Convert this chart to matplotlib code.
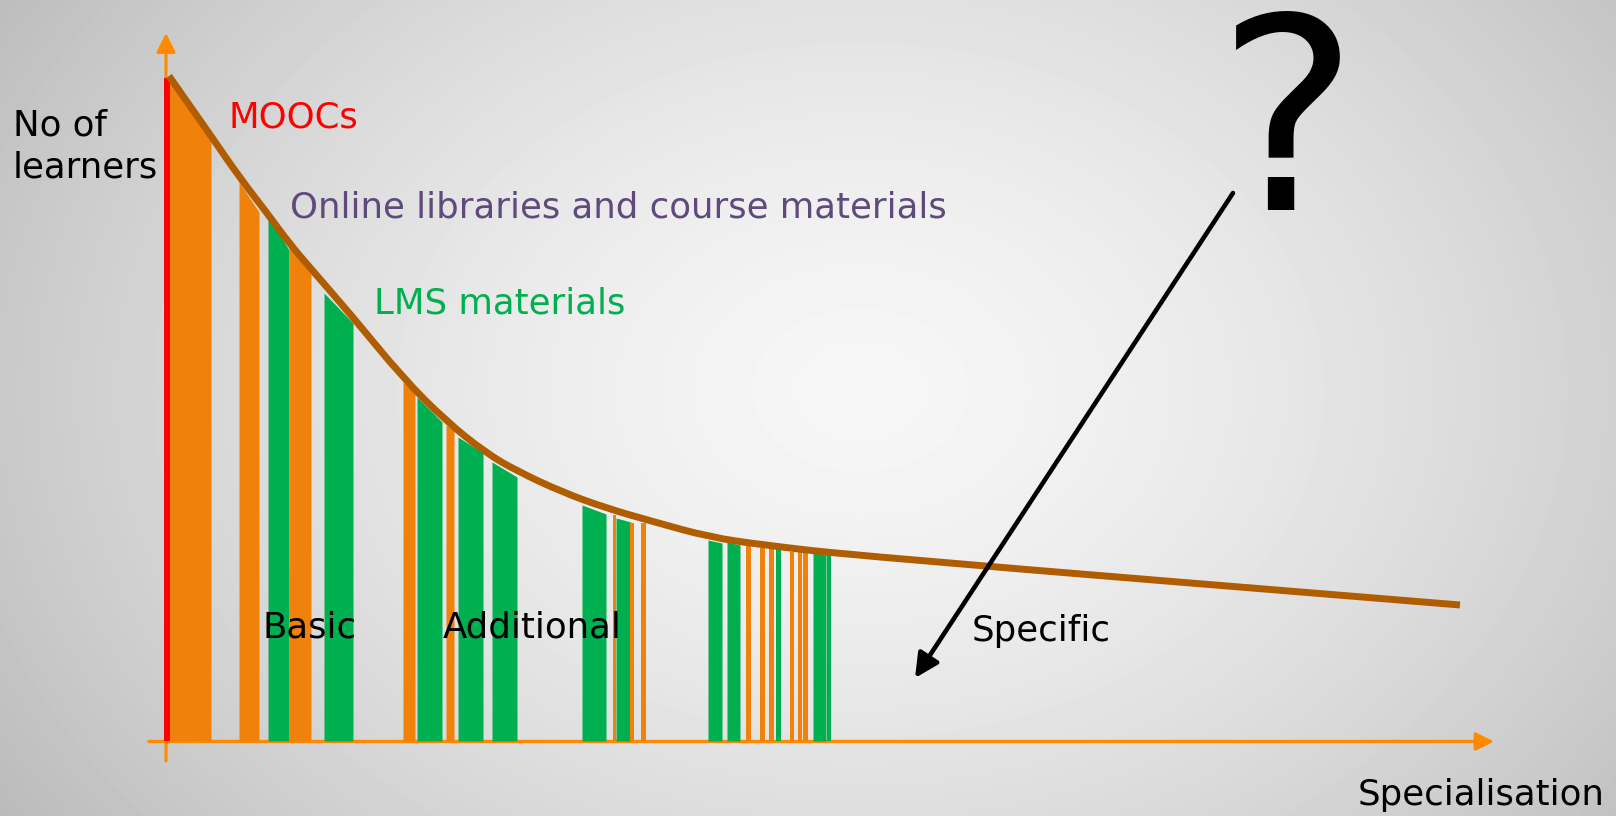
import numpy as np
import matplotlib.pyplot as plt
from matplotlib.path import Path
from matplotlib.patches import PathPatch

# learners (y) against specialisation (x), measured from the axis origin
curve_x = [3, 24, 45, 74, 101, 123, 146, 186, 237, 280, 320, 351, 396, 440,
           485, 543, 597, 694, 1294]
curve_y = [665, 635, 605, 563, 528, 498, 471, 425, 363, 320, 288, 270, 249, 233,
           220, 204, 196, 185, 136]

# resources: start, end, height at start, height at end, kind
bar_x0 = [3, 73, 102, 123, 158, 237, 251, 280, 292, 326, 416, 447, 450, 464, 475,
          542, 561, 580, 594, 603, 610, 624, 632, 637, 647, 661]
bar_x1 = [45, 93, 123, 145, 187, 249, 276, 288, 317, 351, 440, 450, 465, 468, 480,
          556, 574, 585, 599, 608, 615, 628, 636, 642, 660, 665]
bar_y0 = [663, 559, 526, 496, 448, 359, 344, 316, 304, 279, 236, 226, 223, 218, 218,
          201, 199, 196, 193, 193, 192, 189, 189, 189, 189, 186]
bar_y1 = [601, 529, 491, 469, 418, 349, 319, 311, 288, 264, 227, 226, 219, 218, 218,
          198, 196, 196, 193, 193, 192, 189, 189, 189, 188, 186]
bar_kind = ['o', 'o', 'g', 'o', 'g', 'o', 'g', 'o', 'g', 'g', 'g', 'o', 'g', 'o', 'o',
            'g', 'g', 'o', 'o', 'o', 'g', 'o', 'o', 'o', 'g', 'g']
mooc_top = 663

colors = {'o': '#F0820C', 'g': '#00B050'}
axis_col = '#FF8A00'

fig = plt.figure(figsize=(16.16, 8.16), dpi=100)
ax = fig.add_axes([0, 0, 1, 1])
x_lo, x_hi, y_lo, y_hi = -166, 1450, -75, 741
ax.set_xlim(x_lo, x_hi)
ax.set_ylim(y_lo, y_hi)
ax.axis('off')

# radial grey background
X, Y = np.meshgrid(np.arange(1616), np.arange(816))
r = np.sqrt(((X - 860) / 800.0) ** 2 + ((Y - 390) / 600.0) ** 2)
v = np.clip(0.965 - 0.16 * r ** 1.5, 0, 1)
ax.imshow(v, cmap='gray', vmin=0, vmax=1, extent=(x_lo, x_hi, y_lo, y_hi),
          origin='upper', aspect='auto', zorder=0, interpolation='bilinear')

for x0, x1, y0, y1, k in zip(bar_x0, bar_x1, bar_y0, bar_y1, bar_kind):
    ax.fill_between([x0, x1], [y0, y1], 0, color=colors[k], lw=0, zorder=2)

ax.plot([1, 1], [0, mooc_top], color='#FF0000', lw=4.3, solid_capstyle='butt', zorder=3)

# smooth curve: the read points act as bezier control points
pts = np.column_stack([curve_x, curve_y]).astype(float)
mids = (pts[:-1] + pts[1:]) / 2
verts = [pts[0], mids[0]]
codes = [Path.MOVETO, Path.LINETO]
for i in range(1, len(pts) - 1):
    verts += [pts[i], mids[i]]
    codes += [Path.CURVE3, Path.CURVE3]
verts.append(pts[-1])
codes.append(Path.LINETO)
ax.add_patch(PathPatch(Path(verts, codes), fill=False, ec='#B05C00', lw=5,
                       capstyle='butt', joinstyle='round', zorder=4))

# axes with arrow heads
ax.annotate('', xy=(0, 708), xytext=(0, -20),
            arrowprops=dict(arrowstyle='-|>', color=axis_col, lw=2.2,
                            mutation_scale=29, shrinkA=0, shrinkB=0), zorder=1)
ax.annotate('', xy=(1328, -0.5), xytext=(-17, -0.5),
            arrowprops=dict(arrowstyle='-|>', color=axis_col, lw=2.4,
                            mutation_scale=27, shrinkA=0, shrinkB=0), zorder=1)

# arrow to the unknown
ax.annotate('', xy=(749, 63), xytext=(1067, 548),
            arrowprops=dict(arrowstyle='-|>', color='black', lw=3.3,
                            mutation_scale=36, shrinkA=0, shrinkB=0), zorder=5)

fs = 25.6
ax.text(-153, 606, 'No of', fontsize=fs, color='black', zorder=6)
ax.text(-153, 563, 'learners', fontsize=fs, color='black', zorder=6)
ax.text(62, 613, 'MOOCs', fontsize=fs, color='#FF0000', zorder=6)
ax.text(124, 524, 'Online libraries and course materials', fontsize=fs,
        color='#604A7B', zorder=6)
ax.text(208, 427, 'LMS materials', fontsize=fs, color='#00B050', zorder=6)
ax.text(96, 104, 'Basic', fontsize=fs, color='black', zorder=6)
ax.text(277, 104, 'Additional', fontsize=fs, color='black', zorder=6)
ax.text(806, 100, 'Specific', fontsize=fs, color='black', zorder=6)
ax.text(1192, -64, 'Specialisation', fontsize=fs, color='black', zorder=6)
ax.text(1122, 531, '?', fontsize=192, color='black', ha='center', zorder=6)

fig.savefig('out.png', dpi=100)
